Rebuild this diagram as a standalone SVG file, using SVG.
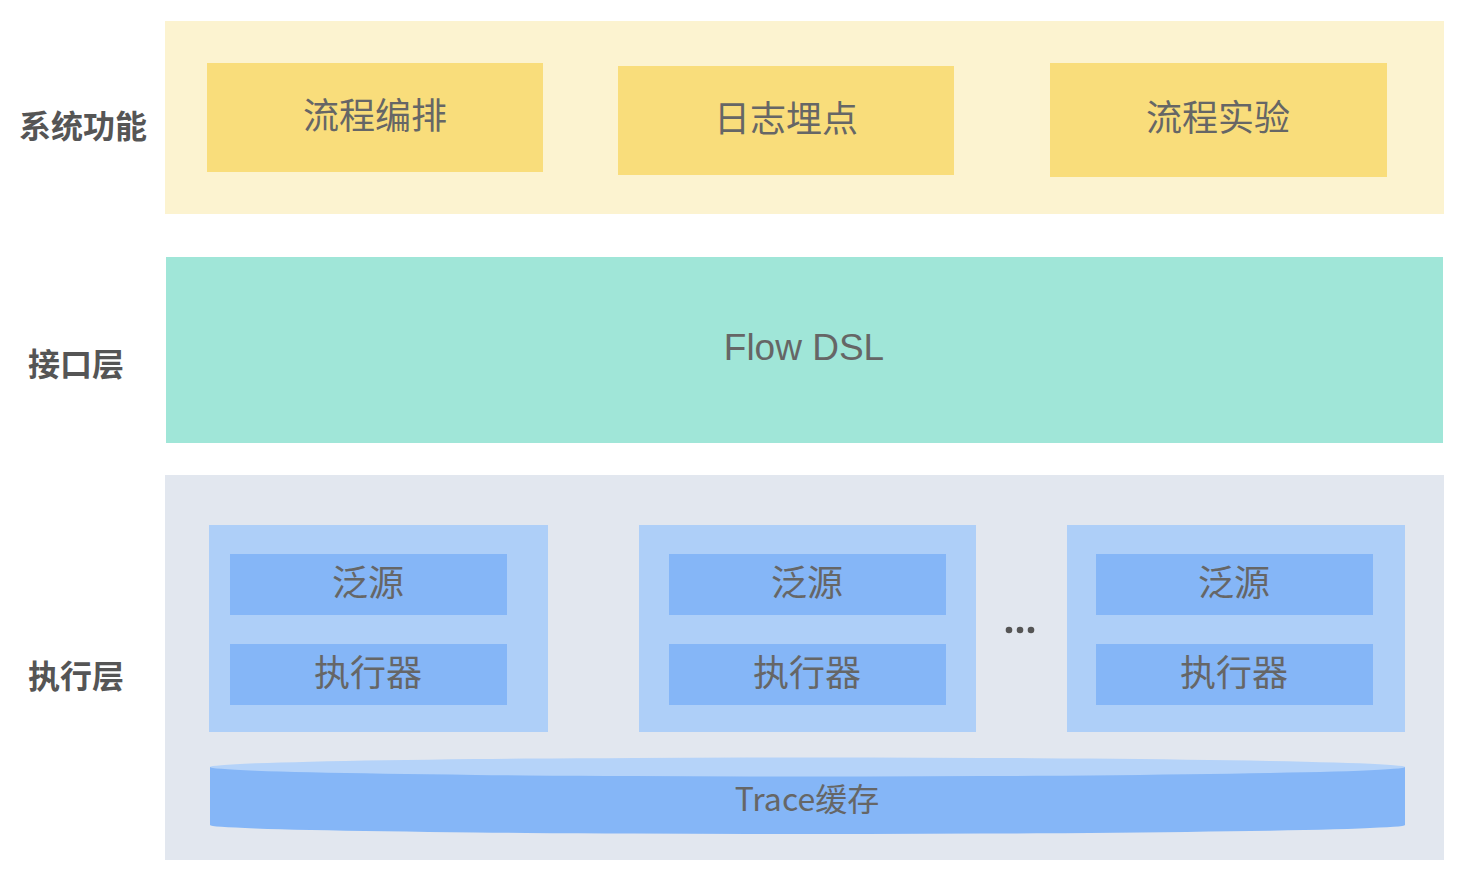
<svg xmlns="http://www.w3.org/2000/svg" width="1474" height="882" viewBox="0 0 1474 882">
<style>
.lbl{font-family:"Noto Sans CJK SC","Liberation Sans",sans-serif;font-weight:bold;font-size:32px;fill:#555;text-anchor:middle;dominant-baseline:central}
.t{font-family:"Noto Sans CJK SC","Liberation Sans",sans-serif;font-size:36px;fill:#666;text-anchor:middle;dominant-baseline:central}
.en{font-family:"Liberation Sans","Noto Sans CJK SC",sans-serif;font-size:37px;fill:#666;text-anchor:middle}
.y{fill:#f9dd7b}
.col{fill:#aecff8}
.in{fill:#85b6f7}
</style>
<rect width="1474" height="882" fill="#fff"/>
<g id="layer-func">
<rect x="165" y="21" width="1279" height="193" fill="#fcf3d0"/>
<text class="lbl" x="83" y="124">系统功能</text>
</g>
<g id="node-flow-orch"><rect class="y" x="207" y="63" width="336" height="109"/><text class="t" x="375" y="113">流程编排</text></g>
<g id="node-log"><rect class="y" x="618" y="66" width="336" height="109"/><text class="t" x="786" y="116">日志埋点</text></g>
<g id="node-exp"><rect class="y" x="1050" y="63" width="337" height="114"/><text class="t" x="1218" y="115">流程实验</text></g>
<g id="layer-iface">
<rect x="166" y="257" width="1277" height="186" fill="#a0e6d8"/>
<text class="lbl" x="76" y="362">接口层</text>
<text class="en" x="804" y="360">Flow DSL</text>
</g>
<g id="layer-exec">
<rect x="165" y="475" width="1279" height="385" fill="#e2e7ef"/>
<text class="lbl" x="76" y="674">执行层</text>
</g>
<g id="col1">
<rect class="col" x="209" y="525" width="339" height="207"/>
<rect class="in" x="230" y="554" width="277" height="61"/><text class="t" x="368" y="580">泛源</text>
<rect class="in" x="230" y="644" width="277" height="61"/><text class="t" x="368" y="670">执行器</text>
</g>
<g id="col2">
<rect class="col" x="639" y="525" width="337" height="207"/>
<rect class="in" x="669" y="554" width="277" height="61"/><text class="t" x="807" y="580">泛源</text>
<rect class="in" x="669" y="644" width="277" height="61"/><text class="t" x="807" y="670">执行器</text>
</g>
<g id="dots" fill="#555">
<circle cx="1009" cy="630" r="3.3"/><circle cx="1020" cy="630" r="3.3"/><circle cx="1031" cy="630" r="3.3"/>
</g>
<g id="col3">
<rect class="col" x="1067" y="525" width="338" height="207"/>
<rect class="in" x="1096" y="554" width="277" height="61"/><text class="t" x="1234" y="580">泛源</text>
<rect class="in" x="1096" y="644" width="277" height="61"/><text class="t" x="1234" y="670">执行器</text>
</g>
<g id="trace-cache">
<path d="M210,767 L210,825 A597.5,9 0 0 0 1405,825 L1405,767 Z" fill="#85b6f7"/>
<ellipse cx="807.5" cy="767" rx="597.5" ry="9.5" fill="#b5d3f9"/>
<text class="t" x="807" y="797" style="font-size:32px">Trace缓存</text>
</g>
<g id="connectors"></g>
</svg>
